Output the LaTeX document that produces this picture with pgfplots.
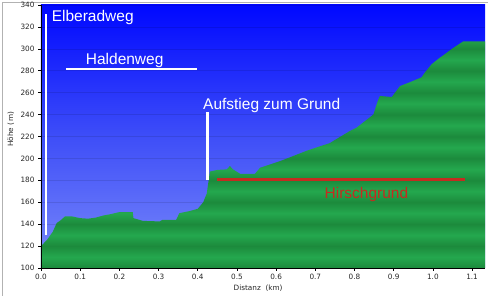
\documentclass[border=0pt]{standalone}
\usepackage{fontspec}
\setmainfont{Liberation Sans}
\newfontfamily\verd{DejaVu Sans}
\usepackage{pgfplots}
\pgfplotsset{compat=1.18}
\definecolor{bluetop}{RGB}{0,8,255}
\definecolor{bluemid}{RGB}{62,78,248}
\definecolor{bluebot}{RGB}{122,138,250}
\definecolor{gdark}{RGB}{28,138,60}
\definecolor{glight}{RGB}{36,168,78}
\definecolor{hred}{RGB}{196,44,32}
\pgfdeclareverticalshading{bands}{100bp}{color(0bp)=(gdark); color(25bp)=(gdark);
 color(27.42bp)=(glight); color(29.84bp)=(gdark); color(32.26bp)=(glight); color(34.68bp)=(gdark);
 color(37.10bp)=(glight); color(39.51bp)=(gdark); color(41.93bp)=(glight); color(44.35bp)=(gdark);
 color(46.77bp)=(glight); color(49.19bp)=(gdark); color(51.61bp)=(glight); color(54.03bp)=(gdark);
 color(56.45bp)=(glight); color(58.87bp)=(gdark); color(61.29bp)=(glight); color(63.70bp)=(gdark);
 color(66.12bp)=(glight); color(68.54bp)=(gdark); color(70.96bp)=(glight); color(73.38bp)=(gdark);
 color(75.80bp)=(glight); color(78.22bp)=(gdark); color(100bp)=(gdark)}
\begin{document}
\begin{tikzpicture}
\useasboundingbox (0,0) rectangle (488pt,296pt);
\draw[gray!60, line width=1.2pt] (2.5pt,0) -- (2.5pt,293.5pt) -- (488pt,293.5pt);
\begin{axis}[
  at={(41pt,28pt)}, anchor=south west,
  scale only axis, width=444pt, height=263pt,
  xmin=0, xmax=1.133, ymin=100, ymax=340,
  axis background/.style={shade, top color=bluetop, bottom color=bluebot, middle color=bluemid},
  axis line style={draw=none},
  xtick={0,0.1,...,1.1}, ytick={100,120,...,340},
  xtick pos=left, ytick pos=left,
  tick align=outside, major tick length=3pt,
  tick style={black, line width=0.6pt},
  ymajorgrids, major grid style={black, opacity=0.10, line width=0.6pt},
  xticklabel style={/pgf/number format/.cd, fixed, fixed zerofill, precision=1},
  /pgf/number format/assume math mode=true,
  ticklabel style={font=\verd\fontsize{7.3}{8}\selectfont, text=black!85},
  xlabel={Distanz\ \ (km)}, ylabel={Höhe (\,m)},
  xlabel style={font=\verd\fontsize{7.3}{8}\selectfont, text=black!85, at={(axis description cs:0.489,-0.076)}, anchor=center},
  ylabel style={font=\verd\fontsize{7.3}{8}\selectfont, text=black!85, at={(axis description cs:-0.068,0.528)}, anchor=center},
  after end axis/.code={
    \draw[black, line width=0.8pt] (axis description cs:0,1) -- (axis description cs:0,0) -- (axis description cs:1,0);
  },
]
\addplot[draw=none, shade, shading=bands] coordinates {
(0,100) (0,120) (0.015,125.5) (0.03,133) (0.04,141) (0.05,143.5) (0.061,147)
(0.08,147) (0.1,145.5) (0.12,145) (0.14,146) (0.16,148) (0.176,149) (0.2,151)
(0.234,151) (0.236,145.5) (0.26,143) (0.303,142.5) (0.31,144) (0.345,144)
(0.353,150) (0.38,152) (0.4,154) (0.414,160) (0.423,168) (0.431,188)
(0.45,189.5) (0.474,190) (0.482,193) (0.49,190) (0.508,186) (0.546,186)
(0.559,191.5) (0.61,197.5) (0.678,207) (0.737,214) (0.788,225) (0.805,228)
(0.848,240) (0.861,254) (0.865,257) (0.895,256) (0.916,266) (0.941,269.5)
(0.971,274) (0.98,278.6) (0.997,286) (1.018,292) (1.03,295) (1.051,300.6)
(1.077,306.7) (1.133,306.7) (1.133,100)
};
\addplot[white, line width=2.2pt] coordinates {(0.013,130) (0.013,332)};
\addplot[white, line width=2.2pt] coordinates {(0.064,281.5) (0.397,281.5)};
\addplot[white, line width=2.2pt] coordinates {(0.425,180) (0.425,242)};
\addplot[hred, line width=2.7pt] coordinates {(0.45,180.5) (1.082,180.5)};
\node[white, anchor=base west, inner sep=0, font=\fontsize{15.5}{16}\selectfont] at (axis cs:0.027,324.8) {Elberadweg};
\node[white, anchor=base, inner sep=0, font=\fontsize{15.5}{16}\selectfont] at (axis cs:0.2135,285.9) {Haldenweg};
\node[white, anchor=base west, inner sep=0, font=\fontsize{15.5}{16}\selectfont] at (axis cs:0.4133,244.2) {Aufstieg zum Grund};
\node[hred, anchor=base, inner sep=0, font=\fontsize{15.5}{16}\selectfont] at (axis cs:0.8304,163.6) {Hirschgrund};
\end{axis}
\end{tikzpicture}
\end{document}
